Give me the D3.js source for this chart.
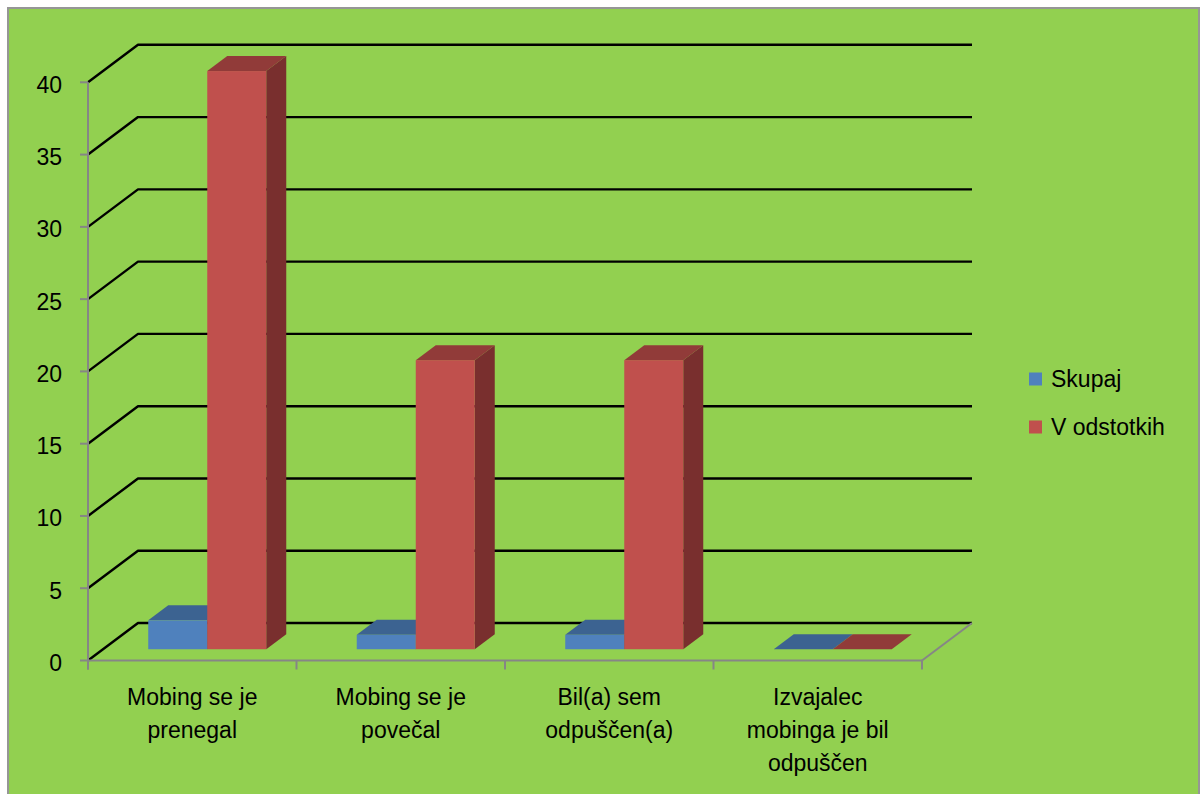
<!DOCTYPE html>
<html>
<head>
<meta charset="utf-8">
<script src="https://cdn.jsdelivr.net/npm/d3@7"></script>
<style>
  html, body { margin: 0; padding: 0; background: #ffffff; }
  svg { display: block; }
  text { font-family: "Liberation Sans", Arial, sans-serif; fill: #000; }
</style>
</head>
<body>
<svg id="chart" width="1202" height="794"></svg>
<script>
// Categories (label lines) and the two series
const categoryLabels = [
  ["Mobing se je", "prenegal"],
  ["Mobing se je", "povečal"],
  ["Bil(a) sem", "odpuščen(a)"],
  ["Izvajalec", "mobinga je bil", "odpuščen"]
];
const seriesNames = ["Skupaj", "V odstotkih"];
const skupaj = [2, 1, 1, 0];
const vOdstotkih = [40, 20, 20, 0];
const yTicks = [0, 5, 10, 15, 20, 25, 30, 35, 40];

const seriesValues = [skupaj, vOdstotkih];
const palette = [
  { front: "#4F81BD", top: "#3C6391", side: "#2F4F75" },
  { front: "#C0504D", top: "#913B39", side: "#792F2E" }
];

const svg = d3.select("#chart");

// Chart area background and frame
svg.append("rect")
  .attr("x", 8).attr("y", 8).attr("width", 1191).attr("height", 800)
  .attr("fill", "#92D050").attr("stroke", "#969696").attr("stroke-width", 2);

// Front plane of the 3D plot box, plus depth offset to the back wall
const plotLeft = 88, plotRight = 922;
const DX = 50, DY = -37.5;
const y = d3.scaleLinear().domain([0, 40]).range([660.5, 82.3]);
const x0 = d3.scaleBand().domain(d3.range(categoryLabels.length)).range([plotLeft, plotRight]);
const bw = x0.bandwidth();
const groupW = bw * 0.566;
const x1 = d3.scaleBand().domain(seriesNames).range([(bw - groupW) / 2, (bw + groupW) / 2]);
const dFront = 0.3, dBack = 0.7;

// Gridlines: left wall diagonal + back wall horizontal
const grid = svg.append("g");
yTicks.forEach(v => {
  const yy = y(v);
  grid.append("polyline")
    .attr("points", `${plotLeft},${yy} ${plotLeft + DX},${yy + DY} ${plotRight + DX},${yy + DY}`)
    .attr("fill", "none").attr("stroke", "#000").attr("stroke-width", 2.4)
    .attr("stroke-linejoin", "round");
});

// Floor edges (front = category axis, right edge)
const axisColor = "#868686";
svg.append("line")
  .attr("x1", plotRight).attr("y1", y(0)).attr("x2", plotRight + DX).attr("y2", y(0) + DY)
  .attr("stroke", axisColor).attr("stroke-width", 2);

// 3D columns
const bars = svg.append("g");
categoryLabels.forEach((_, i) => {
  seriesNames.forEach((s, k) => {
    const v = seriesValues[k][i];
    const c = palette[k];
    const xl = x0(i) + x1(s);
    const xr = xl + x1.bandwidth();
    const yt = y(v), yb = y(0);
    const fx = DX * dFront, fy = DY * dFront;
    const bx = DX * dBack, by = DY * dBack;
    // right side
    if (v > 0) {
      bars.append("polygon")
        .attr("points", [[xr + fx, yt + fy], [xr + bx, yt + by], [xr + bx, yb + by], [xr + fx, yb + fy]].join(" "))
        .attr("fill", c.side);
    }
    // top
    bars.append("polygon")
      .attr("points", [[xl + fx, yt + fy], [xr + fx, yt + fy], [xr + bx, yt + by], [xl + bx, yt + by]].join(" "))
      .attr("fill", c.top);
    // front
    if (v > 0) {
      bars.append("rect")
        .attr("x", xl + fx).attr("y", yt + fy)
        .attr("width", xr - xl).attr("height", yb - yt)
        .attr("fill", c.front);
    }
  });
});

// Value axis
const yAxisG = svg.append("g");
yAxisG.append("line")
  .attr("x1", plotLeft).attr("y1", y(40)).attr("x2", plotLeft).attr("y2", y(0) + 9)
  .attr("stroke", axisColor).attr("stroke-width", 2);
yTicks.forEach(v => {
  yAxisG.append("line")
    .attr("x1", plotLeft - 8).attr("x2", plotLeft).attr("y1", y(v)).attr("y2", y(v))
    .attr("stroke", axisColor).attr("stroke-width", 2);
  yAxisG.append("text")
    .attr("x", 62).attr("y", y(v) + 10.5)
    .attr("text-anchor", "end").attr("font-size", 23)
    .text(v);
});

// Category axis
const xAxisG = svg.append("g");
xAxisG.append("line")
  .attr("x1", plotLeft).attr("y1", y(0)).attr("x2", plotRight).attr("y2", y(0))
  .attr("stroke", axisColor).attr("stroke-width", 2);
d3.range(categoryLabels.length + 1).forEach(j => {
  const xx = j < categoryLabels.length ? x0(j) : plotRight;
  xAxisG.append("line")
    .attr("x1", xx).attr("x2", xx).attr("y1", y(0)).attr("y2", y(0) + 9)
    .attr("stroke", axisColor).attr("stroke-width", 2);
});
categoryLabels.forEach((lines, i) => {
  const t = xAxisG.append("text")
    .attr("text-anchor", "middle").attr("font-size", 23);
  lines.forEach((ln, li) => {
    t.append("tspan")
      .attr("x", x0(i) + bw / 2)
      .attr("y", 705 + li * 33)
      .text(ln);
  });
});

// Legend
const legend = svg.append("g");
seriesNames.forEach((s, k) => {
  const ly = 379 + k * 48;
  legend.append("rect")
    .attr("x", 1029).attr("y", ly - 6.5).attr("width", 13).attr("height", 13)
    .attr("fill", palette[k].front);
  legend.append("text")
    .attr("x", 1051).attr("y", ly + 8)
    .attr("font-size", 23)
    .text(s);
});
</script>
</body>
</html>
